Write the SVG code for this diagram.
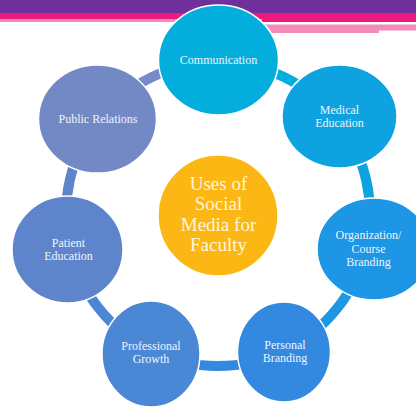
<svg xmlns="http://www.w3.org/2000/svg" width="416" height="407" viewBox="0 0 416 407">
<style>
.node{stroke:#ffffff;stroke-width:1.5}
.lbl{font-family:"Liberation Serif","Times New Roman",serif;font-size:12px;fill:#F0F4FA;text-anchor:middle}
.ctr{font-family:"Liberation Serif","Times New Roman",serif;font-size:19px;fill:#FFF6DC;text-anchor:middle}
.seg{fill:none;stroke-width:10}
</style>
<rect x="0" y="0" width="416" height="407" fill="#ffffff"/>
<g id="header">
<rect x="0" y="0" width="416" height="13" fill="#70309B"/>
<rect x="0" y="13" width="262" height="6" fill="#EC1A7C"/>
<rect x="262" y="13" width="154" height="9" fill="#EC1A7C"/>
<rect x="0" y="19" width="262" height="3" fill="#F48BBB"/>
<rect x="262" y="24.5" width="117" height="8.5" fill="#F48BBB"/>
<rect x="379" y="24.5" width="37" height="6" fill="#F48BBB"/>
</g>
<g id="connectors">
<path class="seg" stroke="#04AEDC" d="M218 62 A152 152 0 0 1 336.8 119.2"/>
<path class="seg" stroke="#0EA2E0" d="M336.8 119.2 A152 152 0 0 1 366.2 247.8"/>
<path class="seg" stroke="#1C96E5" d="M366.2 247.8 A152 152 0 0 1 284 350.9"/>
<path class="seg" stroke="#3289DF" d="M284 350.9 A152 152 0 0 1 152 350.9"/>
<path class="seg" stroke="#4A88D6" d="M152 350.9 A152 152 0 0 1 69.8 247.8"/>
<path class="seg" stroke="#5E85CC" d="M69.8 247.8 A152 152 0 0 1 99.2 119.2"/>
<path class="seg" stroke="#7A89C8" d="M99.2 119.2 A152 152 0 0 1 218 62"/>
</g>
<g id="center">
<ellipse class="node" cx="218" cy="215.5" rx="60" ry="60.5" fill="#FDB714"/>
<text class="ctr" x="218.5" y="189.5">Uses of</text>
<text class="ctr" x="218.5" y="210">Social</text>
<text class="ctr" x="218.5" y="230.5">Media for</text>
<text class="ctr" x="218.5" y="251">Faculty</text>
</g>
<g id="communication">
<ellipse class="node" cx="218.5" cy="60" rx="60" ry="55" fill="#04AEDC"/>
<text class="lbl" x="218.5" y="63.5">Communication</text>
</g>
<g id="medical-education">
<ellipse class="node" cx="339.5" cy="116.5" rx="57.5" ry="51.5" fill="#0EA2E0"/>
<text class="lbl" x="339.5" y="113.5">Medical</text>
<text class="lbl" x="339.5" y="126.5">Education</text>
</g>
<g id="organization-course-branding">
<ellipse class="node" cx="374" cy="249" rx="57" ry="51" fill="#1C96E5"/>
<text class="lbl" x="368.5" y="239">Organization/</text>
<text class="lbl" x="368.5" y="252.5">Course</text>
<text class="lbl" x="368.5" y="265.5">Branding</text>
</g>
<g id="personal-branding">
<ellipse class="node" cx="284" cy="352" rx="46.5" ry="50" fill="#3289DF"/>
<text class="lbl" x="285" y="348.5">Personal</text>
<text class="lbl" x="285" y="361.5">Branding</text>
</g>
<g id="professional-growth">
<ellipse class="node" cx="151" cy="354" rx="49" ry="53" fill="#4A88D6"/>
<text class="lbl" x="151" y="350">Professional</text>
<text class="lbl" x="151" y="363">Growth</text>
</g>
<g id="patient-education">
<ellipse class="node" cx="67.5" cy="249.5" rx="55.5" ry="53.5" fill="#5E85CC"/>
<text class="lbl" x="68.5" y="246.5">Patient</text>
<text class="lbl" x="68.5" y="259.5">Education</text>
</g>
<g id="public-relations">
<ellipse class="node" cx="97.5" cy="119" rx="59" ry="54" fill="#7289C6"/>
<text class="lbl" x="98" y="122.5">Public Relations</text>
</g>
</svg>
